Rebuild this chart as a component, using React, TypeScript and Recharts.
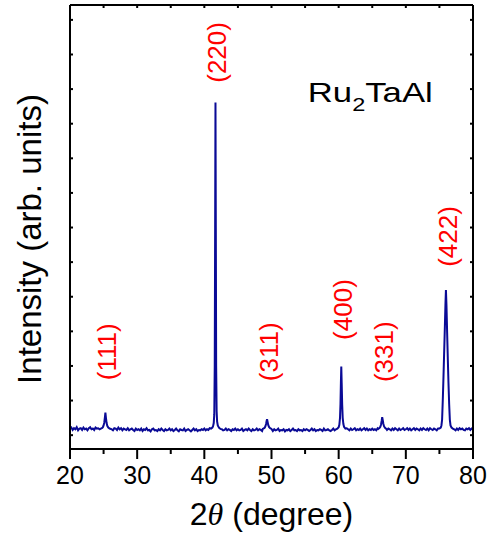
import React from "react";
import { LineChart, Line, XAxis, YAxis, ReferenceDot, Label } from "recharts";

// Powder pattern, sampled every 0.2 deg from 20 to 80 (background with noise)
const scanStart = 20;
const scanStep = 0.2;
const background = [
  19, 22, 15, 20, 17, 23, 14, 19, 20, 15, 22, 17, 19, 14, 20, 23, 17, 19, 15, 22, 19, 20, 17, 23, 20,
  19, 17, 20, 15, 19, 22, 17, 14, 20, 19, 15, 22, 17, 20, 14, 19, 17, 15, 20, 14, 17, 19, 15, 12, 19,
  15, 17, 14, 19, 12, 17, 15, 20, 14, 15, 11, 17, 19, 14, 15, 12, 17, 14, 19, 15, 12, 17, 14, 15, 19,
  14, 17, 12, 15, 19, 14, 11, 17, 15, 14, 19, 12, 15, 17, 14, 11, 15, 19, 14, 17, 12, 15, 14, 17, 15,
  19, 14, 17, 15, 20, 17, 19, 15, 14, 17, 20, 15, 19, 17, 14, 15, 19, 14, 17, 15, 12, 17, 15, 19, 14,
  17, 14, 15, 19, 12, 15, 17, 14, 19, 15, 12, 17, 14, 15, 19, 14, 17, 15, 12, 17, 14, 19, 15, 17, 14,
  15, 12, 17, 14, 15, 19, 12, 15, 14, 17, 11, 15, 14, 17, 12, 15, 19, 14, 15, 12, 17, 14, 15, 12, 17,
  14, 17, 15, 12, 15, 19, 14, 17, 12, 15, 14, 17, 15, 12, 19, 14, 15, 17, 14, 12, 15, 19, 14, 17, 15,
  19, 15, 17, 14, 19, 15, 20, 17, 14, 19, 15, 17, 20, 14, 17, 15, 19, 14, 17, 20, 15, 19, 14, 17, 15,
  19, 15, 17, 14, 20, 17, 15, 19, 14, 17, 20, 15, 19, 17, 14, 19, 15, 20, 17, 14, 19, 15, 17, 20, 15,
  17, 20, 15, 19, 14, 17, 20, 15, 19, 17, 14, 19, 15, 20, 17, 15, 19, 14, 20, 17, 15, 19, 17, 14, 19,
  17, 20, 15, 19, 17, 14, 20, 17, 19, 15, 20, 17, 14, 19, 15, 20, 17, 19, 15, 14, 19, 17, 20, 15, 19,
  17,
];

// Reflections, finer sampling [2theta, counts]
const peak111 = [[24.6, 19], [24.8, 21], [24.9, 23], [25.0, 28], [25.1, 36], [25.2, 52], [25.27, 65], [25.35, 50], [25.45, 35], [25.55, 27], [25.7, 22], [25.9, 19], [26.1, 18]];
const peak220 = [[41.0, 19], [41.2, 22], [41.3, 26], [41.4, 35], [41.48, 60], [41.55, 200], [41.61, 600], [41.66, 961], [41.71, 600], [41.76, 200], [41.83, 70], [41.9, 40], [42.0, 28], [42.2, 21], [42.4, 18]];
const peak311 = [[48.7, 18], [48.9, 20], [49.0, 22], [49.1, 26], [49.2, 33], [49.28, 42], [49.34, 46], [49.42, 38], [49.52, 29], [49.65, 23], [49.8, 20], [50.0, 18]];
const peak400 = [[59.8, 19], [60.0, 23], [60.1, 30], [60.2, 50], [60.27, 90], [60.33, 150], [60.39, 198], [60.45, 150], [60.52, 90], [60.6, 50], [60.7, 32], [60.8, 24], [61.0, 19]];
const peak331 = [[65.9, 18], [66.1, 21], [66.2, 24], [66.3, 30], [66.4, 41], [66.48, 52], [66.55, 45], [66.65, 33], [66.75, 26], [66.9, 21], [67.1, 18]];
const peak422 = [[75.0, 19], [75.2, 22], [75.3, 28], [75.4, 45], [75.5, 100], [75.6, 165], [75.7, 235], [75.8, 305], [75.9, 380], [75.97, 419], [76.05, 375], [76.15, 295], [76.25, 220], [76.35, 150], [76.45, 90], [76.55, 45], [76.65, 28], [76.8, 22], [77.0, 19]];

const peakLabels = ["(111)", "(220)", "(311)", "(400)", "(331)", "(422)"];
const peakAngles = [25.27, 41.66, 49.34, 60.39, 66.48, 75.97];
const labelHeights = [241, 1106, 241, 363, 241, 574];

const xMajor = [20, 30, 40, 50, 60, 70, 80];
const xAll = [20, 25, 30, 35, 40, 45, 50, 55, 60, 65, 70, 75, 80];
const xTop = [25, 30, 35, 40, 45, 50, 55, 60, 65, 70, 75];
const yTicks = [0, 100, 200, 300, 400, 500, 600, 700, 800, 900, 1000, 1100, 1200];

const SANS = "'Liberation Sans', Arial, sans-serif";

function buildPattern() {
  const segs = [peak111, peak220, peak311, peak400, peak331, peak422];
  const pts = background.map((v, i) => ({ x: +(scanStart + i * scanStep).toFixed(2), y: v }));
  const kept = pts.filter((p) => !segs.some((s) => p.x >= s[0][0] && p.x <= s[s.length - 1][0]));
  const fine = segs.flatMap((s) => s.map(([x, y]) => ({ x, y })));
  return [...kept, ...fine].sort((a, b) => a.x - b.x);
}

const data = buildPattern();

const BottomTick = (props: any) => {
  const { x, y, payload } = props;
  const major = xMajor.includes(payload.value);
  return (
    <g>
      <line x1={x} x2={x} y1={y} y2={y + (major ? 10 : 5)} stroke="#000" strokeWidth={2} />
      {major ? (
        <text x={x} y={y + 35} textAnchor="middle" fontSize={25} fontFamily={SANS} fill="#000">
          {payload.value}
        </text>
      ) : null}
    </g>
  );
};

const XTitle = (props: any) => {
  const { viewBox } = props;
  const cx = viewBox.x + viewBox.width / 2;
  return (
    <text x={cx} y={525} textAnchor="middle" fontSize={32} fontFamily={SANS} fill="#000">
      <tspan>2</tspan>
      <tspan fontFamily="'Liberation Serif', serif" fontStyle="italic">θ</tspan>
      <tspan> (degree)</tspan>
    </text>
  );
};

const YTitle = (props: any) => {
  const { viewBox } = props;
  const cx = 29;
  const cy = viewBox.y + viewBox.height / 2 + 12;
  return (
    <text x={cx} y={cy} transform={`rotate(-90 ${cx} ${cy})`} textAnchor="middle" dominantBaseline="central" fontSize={33} fontFamily={SANS} fill="#000">
      Intensity (arb. units)
    </text>
  );
};

const noTick = () => <g />;
const frame = { stroke: "#000", strokeWidth: 2 };

export default function App() {
  return (
    <div style={{ width: 489, height: 534, background: "#fff", fontFamily: SANS }}>
      <style>{"body{margin:0}"}</style>
      <LineChart width={489} height={534} data={data} margin={{ top: 5, right: 16, bottom: 84, left: 70 }}>
        <XAxis xAxisId="b" type="number" dataKey="x" domain={[20, 80]} allowDataOverflow ticks={xAll} interval={0}
          height={1} tickSize={0} tickMargin={0} tickLine={false} tick={BottomTick} axisLine={frame}>
          <Label content={XTitle} />
        </XAxis>
        <XAxis xAxisId="t" orientation="top" type="number" dataKey="x" domain={[20, 80]} allowDataOverflow ticks={xTop} interval={0}
          height={1} mirror tickSize={3} tick={noTick} tickLine={frame} axisLine={frame} />
        <YAxis yAxisId="l" type="number" domain={[-40, 1243]} allowDataOverflow ticks={yTicks} interval={0}
          width={1} mirror tickSize={3} tick={noTick} tickLine={frame} axisLine={frame}>
          <Label content={YTitle} />
        </YAxis>
        <YAxis yAxisId="r" orientation="right" type="number" domain={[-40, 1243]} allowDataOverflow ticks={yTicks} interval={0}
          width={1} mirror tickSize={3} tick={noTick} tickLine={frame} axisLine={frame} />
        <Line xAxisId="b" yAxisId="l" type="linear" dataKey="y" stroke="#0a0a96" strokeWidth={2} dot={false} isAnimationActive={false} />
        {peakLabels.map((lab, i) => (
          <ReferenceDot key={lab} xAxisId="b" yAxisId="l" x={peakAngles[i]} y={labelHeights[i]} r={0}
            shape={(p: any) => (
              <text x={p.cx + 2} y={p.cy} transform={`rotate(-90 ${p.cx + 2} ${p.cy})`} textAnchor="middle"
                dominantBaseline="central" fontSize={26} fontFamily={SANS} fill="#ff0000">
                {lab}
              </text>
            )} />
        ))}
        <ReferenceDot xAxisId="b" yAxisId="l" x={55.4} y={962} r={0}
          shape={(p: any) => (
            <text x={p.cx} y={p.cy} fontSize={28} fontFamily={SANS} fill="#000" textLength={125} lengthAdjust="spacingAndGlyphs">
              Ru<tspan fontSize={19} dy={9}>2</tspan><tspan dy={-9}>TaAl</tspan>
            </text>
          )} />
      </LineChart>
    </div>
  );
}
